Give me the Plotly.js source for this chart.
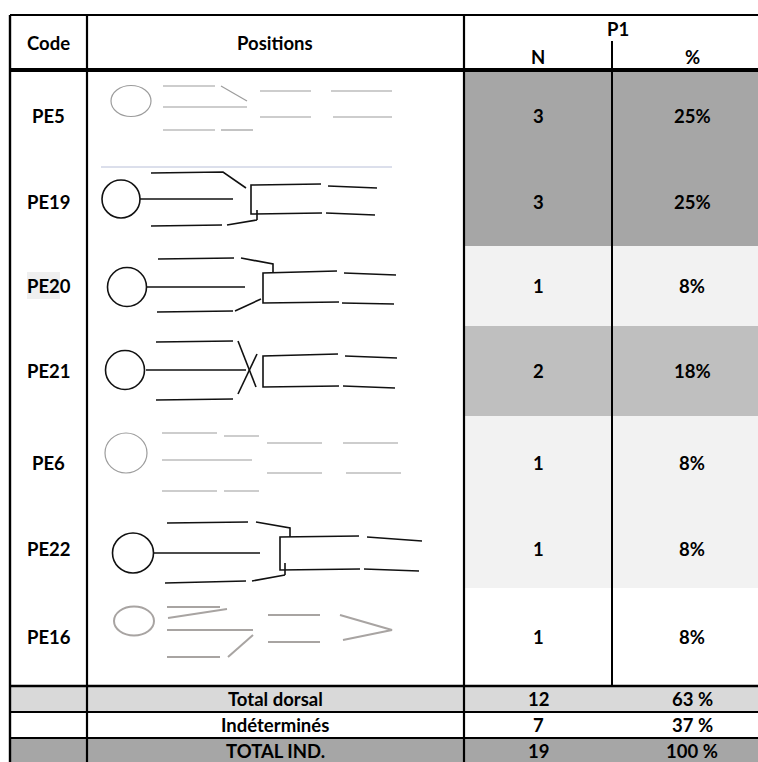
<!DOCTYPE html>
<html>
<head>
<meta charset="utf-8">
<script src="https://cdn.plot.ly/plotly-3.0.1.min.js"></script>
<style>html,body{margin:0;padding:0;background:#fff;}#chart{width:758px;height:762px;}</style>
</head>
<body>
<div id="chart"></div>
<script>
// ---- data ----
var headerLabels = ['Code', 'Positions', 'P1', 'N', '%'];
var codes = ['PE5', 'PE19', 'PE20', 'PE21', 'PE6', 'PE22', 'PE16'];
var nValues = [3, 3, 1, 2, 1, 1, 1];
var pctLabels = ['25%', '25%', '8%', '18%', '8%', '8%', '8%'];
var totalLabels = ['Total dorsal', 'Indéterminés', 'TOTAL IND.'];
var totalN = [12, 7, 19];
var totalPct = ['63 %', '37 %', '100 %'];

// ---- layout / style constants ----
var rowEdges = [70, 158, 246, 326, 416, 510, 588, 686];
var totalEdges = [686, 712, 738, 766];
var colX = {left: 10, code: 87, pos: 464, n: 612, right: 772};
var cellFill = ['#a6a6a6', '#a6a6a6', '#f2f2f2', '#bfbfbf', '#f2f2f2', '#f2f2f2', '#ffffff'];
var totalFill = ['#d9d9d9', '#ffffff', '#a6a6a6'];
var FONT = {family: 'Lato, "Open Sans", sans-serif', size: 18.5, color: '#000', weight: 700};

// glyph templates (drawings in the Positions column)
var faint = {color: '#9c9c9c', width: 1.2};
var ink = {color: '#111', width: 1.6};
var glyphs = {
  PE5: {style: faint, ell: [131, 101, 20, 15.5], lines: [
    [[163,86],[215,86]], [[221,86],[247,101]], [[163,107],[247,107]],
    [[163,130],[215,130]], [[221,130],[253,130]],
    [[260,91],[311,91]], [[260,117],[311,117]], [[331,91],[392,91]], [[333,117],[392,117]]]},
  PE19: {style: ink, ell: [121, 199, 19, 19], lines: [
    [[140,199],[233,199]], [[151,173],[223,172],[246,188]],
    [[321,184],[251,185],[251,214],[322,213]], [[328,186],[377,188]], [[326,213],[375,215]],
    [[257,210],[257,220]], [[151,226],[222,225]], [[227,225],[257,220]]]},
  PE20: {style: ink, ell: [127, 287, 19.5, 19.5], lines: [
    [[147,287],[245,287]], [[158,259],[234,258]], [[241,258],[273,264],[273,273]],
    [[337,271],[263,273],[263,303],[339,302]], [[344,273],[396,275]], [[342,303],[394,304]],
    [[157,312],[233,311]], [[235,311],[261,299]]]},
  PE21: {style: ink, ell: [125, 370, 19.5, 19.5], lines: [
    [[146,370],[246,370]], [[156,342],[233,341]], [[156,400],[233,399]],
    [[238,341],[256,387]], [[238,394],[257,354]],
    [[338,354],[263,356],[263,387],[339,386]], [[345,356],[397,358]], [[343,386],[395,388]]]},
  PE6: {style: faint, ell: [126, 453, 21, 20], lines: [
    [[162,433],[217,433]], [[224,436],[259,436]], [[162,460],[252,460]],
    [[162,491],[217,491]], [[224,491],[259,491]],
    [[267,443],[322,443]], [[267,473],[322,473]], [[343,443],[398,443]], [[346,473],[401,473]]]},
  PE22: {style: ink, ell: [133, 553, 20.5, 20], lines: [
    [[154,553],[260,553]], [[167,523],[248,522]], [[256,522],[290,528],[290,537]],
    [[359,536],[280,537],[280,570],[360,569]], [[367,537],[422,541]], [[364,569],[419,571]],
    [[285,563],[285,575]], [[165,583],[246,581]], [[252,581],[285,575]]]},
  PE16: {style: {color: '#a8a4a2', width: 2}, ell: [134, 621, 20, 14.5], lines: [
    [[167,607],[220,607]], [[168,618],[227,609]], [[167,630],[253,630]],
    [[167,657],[220,657]], [[228,657],[253,635]],
    [[268,615],[320,615]], [[268,642],[320,642]], [[340,615],[392,630],[343,640]]]}
};

var shapes = [];
var annotations = [];
function rect(x0, x1, y0, y1, fill) {
  shapes.push({type: 'rect', xref: 'x', yref: 'y', x0: x0, x1: x1, y0: y0, y1: y1,
    fillcolor: fill, line: {width: 0}, layer: 'below'});
}
function line(x0, y0, x1, y1, w, c) {
  shapes.push({type: 'line', xref: 'x', yref: 'y', x0: x0, y0: y0, x1: x1, y1: y1,
    line: {color: c || '#000', width: w}});
}
function text(t, x, y, opt) {
  annotations.push(Object.assign({text: t, x: x, y: y, xref: 'x', yref: 'y', showarrow: false,
    xanchor: 'center', yanchor: 'middle', font: FONT}, opt || {}));
}

// cell fills (N and % columns)
codes.forEach(function (c, i) {
  rect(colX.pos, colX.right, rowEdges[i], rowEdges[i + 1], cellFill[i]);
});
// total rows fill
totalLabels.forEach(function (t, i) {
  rect(colX.left, colX.right, totalEdges[i], totalEdges[i + 1], totalFill[i]);
});
// light highlight behind PE20 label
rect(27, 60, 272, 299, '#efefef');

// glyph drawings
codes.forEach(function (c) {
  var g = glyphs[c];
  var e = g.ell;
  shapes.push({type: 'circle', xref: 'x', yref: 'y', x0: e[0] - e[2], x1: e[0] + e[2],
    y0: e[1] - e[3], y1: e[1] + e[3], line: g.style});
  g.lines.forEach(function (pts) {
    var p = pts.map(function (q, k) { return (k ? 'L' : 'M') + q[0] + ',' + q[1]; }).join(' ');
    shapes.push({type: 'path', xref: 'x', yref: 'y', path: p, line: g.style});
  });
});
// faint separator under PE5 drawing
line(101, 167, 392, 167, 1, '#b8bfd8');

// table borders
line(colX.left, 15, colX.right, 15, 2.2);
line(colX.left, 70, colX.right, 70, 4);
line(colX.left, 15, colX.left, 769, 2.4);
line(colX.code, 15, colX.code, 769, 2.2);
line(colX.pos, 15, colX.pos, 769, 2.2);
line(colX.n, 41, colX.n, 686, 2);
line(colX.left, totalEdges[0], colX.right, totalEdges[0], 2.4);
line(colX.left, totalEdges[1], colX.right, totalEdges[1], 2.2);
line(colX.left, totalEdges[2], colX.right, totalEdges[2], 2.2);

// header text
text(headerLabels[0], 48.5, 43);
text(headerLabels[1], 275, 43);
text(headerLabels[2], 618, 29);
text(headerLabels[3], 538, 57);
text(headerLabels[4], 692, 57);

// body text
codes.forEach(function (c, i) {
  var yc = (rowEdges[i] + rowEdges[i + 1]) / 2 + (i === 0 ? 2 : 0);
  text(c, 48.5, yc);
  text(String(nValues[i]), 538, yc);
  text(pctLabels[i], 692, yc);
});
var totalTextY = [699, 725, 750.5];
totalLabels.forEach(function (t, i) {
  text(t, 275, totalTextY[i]);
  text(String(totalN[i]), 538, totalTextY[i]);
  text(totalPct[i], 692, totalTextY[i]);
});

var layout = {
  width: 758, height: 762,
  margin: {l: 0, r: 0, t: 0, b: 0, pad: 0},
  paper_bgcolor: '#ffffff', plot_bgcolor: '#ffffff',
  showlegend: false,
  xaxis: {range: [0, 758], visible: false, fixedrange: true},
  yaxis: {range: [762, 0], visible: false, fixedrange: true},
  shapes: shapes,
  annotations: annotations
};
Plotly.newPlot('chart', [{x: [], y: [], type: 'scatter', mode: 'lines', hoverinfo: 'skip'}], layout,
  {staticPlot: true, displayModeBar: false});
</script>
</body>
</html>
